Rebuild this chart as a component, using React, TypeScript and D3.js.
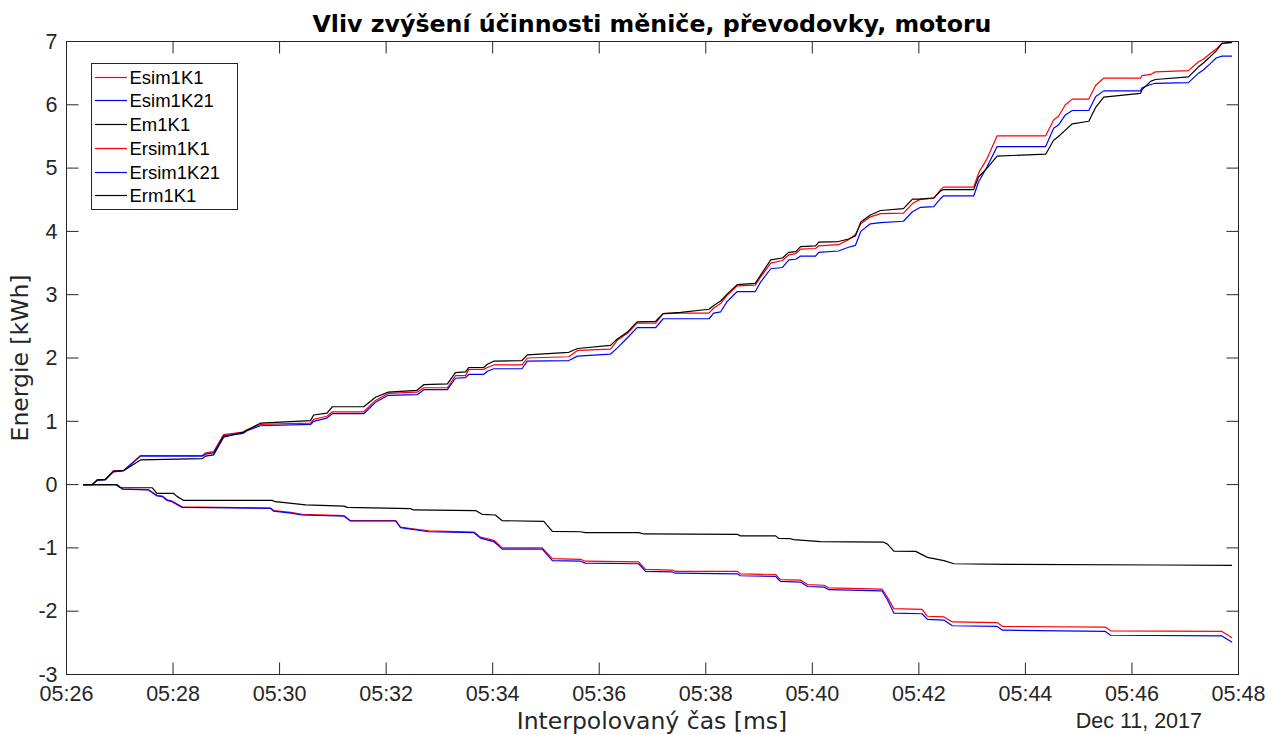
import React, { useEffect } from "react";
import * as d3 from "d3";

// ---- data (minutes after 05:26 on Dec 11, 2017, energy in kWh) ----
const posTimes = [
  0.31, 0.48, 0.58, 0.73, 0.88, 1.07, 1.39, 2.55, 2.61, 2.76,
  2.95, 3.32, 3.39, 3.64, 4.58, 4.64, 4.89, 4.99, 5.58, 5.80,
  6.04, 6.58, 6.71, 7.15, 7.30, 7.49, 7.55, 7.83, 7.90, 8.02,
  8.55, 8.65, 9.43, 9.59, 10.21, 10.34, 10.53, 10.71, 11.06, 11.20,
  11.53, 12.06, 12.15, 12.28, 12.40, 12.59, 12.93, 13.03, 13.22, 13.44,
  13.56, 13.69, 13.78, 14.06, 14.12, 14.49, 14.68, 14.81, 14.91, 15.09,
  15.28, 15.71, 15.88, 16.03, 16.28, 16.41, 16.46, 17.03, 17.12, 17.28,
  17.47, 18.38, 18.53, 18.62, 18.75, 18.88, 19.19, 19.32, 19.47, 20.16,
  20.19, 20.35, 20.44, 21.06, 21.25, 21.34, 21.47, 21.58, 21.69, 21.88,
];
const esim1K1 = [
  0, 0, 0.08, 0.08, 0.22, 0.22, 0.46, 0.46, 0.50, 0.52,
  0.79, 0.83, 0.87, 0.95, 0.97, 1.03, 1.08, 1.15, 1.15, 1.33,
  1.44, 1.46, 1.53, 1.53, 1.72, 1.72, 1.82, 1.82, 1.85, 1.89,
  1.89, 2.00, 2.02, 2.12, 2.14, 2.28, 2.39, 2.55, 2.55, 2.70,
  2.71, 2.71, 2.79, 2.86, 2.99, 3.14, 3.15, 3.28, 3.50, 3.54,
  3.63, 3.65, 3.72, 3.73, 3.77, 3.79, 3.87, 3.95, 4.12, 4.23,
  4.28, 4.29, 4.44, 4.51, 4.52, 4.66, 4.70, 4.70, 4.92, 5.15,
  5.51, 5.51, 5.76, 5.82, 6.00, 6.09, 6.09, 6.31, 6.42, 6.42,
  6.46, 6.48, 6.52, 6.54, 6.68, 6.72, 6.81, 6.88, 6.97, 6.98,
];
const esim1K21 = [
  0, 0, 0.07, 0.08, 0.21, 0.22, 0.45, 0.45, 0.48, 0.50,
  0.77, 0.81, 0.85, 0.93, 0.95, 1.00, 1.05, 1.12, 1.12, 1.30,
  1.41, 1.42, 1.50, 1.50, 1.68, 1.69, 1.74, 1.74, 1.79, 1.83,
  1.83, 1.95, 1.96, 2.03, 2.06, 2.16, 2.32, 2.48, 2.48, 2.62,
  2.62, 2.62, 2.71, 2.73, 2.89, 3.05, 3.05, 3.20, 3.41, 3.43,
  3.55, 3.56, 3.61, 3.61, 3.67, 3.69, 3.75, 3.78, 4.00, 4.12,
  4.14, 4.16, 4.31, 4.38, 4.39, 4.52, 4.56, 4.56, 4.78, 5.02,
  5.34, 5.34, 5.63, 5.68, 5.84, 5.91, 5.91, 6.13, 6.22, 6.22,
  6.27, 6.32, 6.34, 6.35, 6.50, 6.55, 6.65, 6.74, 6.77, 6.77,
];
const em1K1 = [
  0, 0, 0.07, 0.08, 0.20, 0.22, 0.39, 0.41, 0.45, 0.47,
  0.75, 0.83, 0.86, 0.97, 1.01, 1.10, 1.13, 1.23, 1.23, 1.38,
  1.46, 1.49, 1.58, 1.59, 1.77, 1.78, 1.85, 1.85, 1.90, 1.95,
  1.96, 2.05, 2.09, 2.15, 2.20, 2.30, 2.41, 2.57, 2.58, 2.70,
  2.72, 2.77, 2.83, 2.90, 3.01, 3.16, 3.18, 3.31, 3.55, 3.58,
  3.67, 3.68, 3.76, 3.77, 3.83, 3.84, 3.88, 3.93, 4.15, 4.26,
  4.33, 4.36, 4.51, 4.51, 4.53, 4.64, 4.66, 4.66, 4.86, 5.00,
  5.19, 5.22, 5.44, 5.50, 5.60, 5.70, 5.74, 5.96, 6.12, 6.18,
  6.24, 6.37, 6.40, 6.44, 6.60, 6.66, 6.76, 6.85, 6.97, 6.99,
];

const regSimTimes = [
  0.31, 0.95, 1.05, 1.54, 1.70, 1.80, 1.89, 1.98, 2.17, 3.83,
  3.89, 4.21, 4.42, 5.21, 5.33, 6.18, 6.27, 6.43, 6.80, 7.65,
  7.77, 8.02, 8.18, 8.93, 9.12, 9.65, 9.74, 10.74, 10.87, 11.37,
  11.43, 12.59, 12.65, 13.31, 13.40, 13.78, 13.91, 14.22, 14.31, 15.31,
  15.41, 15.53, 16.06, 16.16, 16.47, 16.63, 17.47, 17.57, 19.50, 19.60,
  21.69, 21.88,
];
const ersim1K1 = [
  0, 0, -0.07, -0.08, -0.17, -0.18, -0.24, -0.26, -0.35, -0.37,
  -0.41, -0.44, -0.47, -0.49, -0.57, -0.57, -0.67, -0.69, -0.73, -0.75,
  -0.83, -0.88, -1.00, -1.00, -1.17, -1.18, -1.21, -1.22, -1.34, -1.35,
  -1.37, -1.37, -1.41, -1.42, -1.50, -1.51, -1.58, -1.59, -1.63, -1.65,
  -1.78, -1.96, -1.97, -2.08, -2.09, -2.17, -2.18, -2.24, -2.25, -2.31,
  -2.32, -2.42,
];
const ersim1K21 = [
  0, 0, -0.07, -0.085, -0.18, -0.19, -0.25, -0.27, -0.36, -0.375,
  -0.42, -0.45, -0.48, -0.50, -0.575, -0.575, -0.68, -0.70, -0.745, -0.76,
  -0.845, -0.90, -1.02, -1.02, -1.20, -1.21, -1.24, -1.25, -1.37, -1.38,
  -1.40, -1.41, -1.44, -1.45, -1.53, -1.54, -1.61, -1.62, -1.66, -1.68,
  -1.82, -2.03, -2.04, -2.13, -2.14, -2.23, -2.24, -2.30, -2.32, -2.38,
  -2.39, -2.49,
];
const regMTimes = [
  0.31, 0.92, 1.01, 1.61, 1.70, 2.01, 2.08, 2.20, 3.86, 3.92,
  4.27, 4.49, 5.21, 5.27, 6.46, 6.51, 7.68, 7.80, 8.05, 8.18,
  8.96, 9.12, 9.65, 9.74, 10.74, 10.84, 12.59, 12.65, 13.31, 13.37,
  13.59, 13.65, 14.15, 15.34, 15.41, 15.53, 15.94, 16.16, 16.47, 16.66,
  17.66, 20.54, 21.88,
];
const erm1K1 = [
  0, 0, -0.05, -0.05, -0.14, -0.14, -0.19, -0.25, -0.25, -0.27,
  -0.30, -0.32, -0.34, -0.36, -0.38, -0.40, -0.41, -0.47, -0.48, -0.57,
  -0.58, -0.74, -0.745, -0.76, -0.76, -0.78, -0.785, -0.81, -0.81, -0.85,
  -0.855, -0.87, -0.90, -0.91, -0.94, -1.05, -1.055, -1.15, -1.20, -1.25,
  -1.26, -1.27, -1.275,
];

const seriesNames = ["Esim1K1", "Esim1K21", "Em1K1", "Ersim1K1", "Ersim1K21", "Erm1K1"];
const seriesColors = ["#ff0000", "#0000ff", "#000000", "#ff0000", "#0000ff", "#000000"];
const yTickValues = [-3, -2, -1, 0, 1, 2, 3, 4, 5, 6, 7];
const xTickMinutes = [0, 2, 4, 6, 8, 10, 12, 14, 16, 18, 20, 22];
const titleText = "Vliv zvýšení účinnosti měniče, převodovky, motoru";
const xLabelText = "Interpolovaný čas [ms]";
const yLabelText = "Energie [kWh]";
const dateLabelText = "Dec 11, 2017";

const T0 = new Date(2017, 11, 11, 5, 26, 0).getTime();
const toDate = (m: number) => new Date(T0 + m * 60000);

export default function App() {
  useEffect(() => {
    document.body.style.margin = "0";
  }, []);

  const W = 1272, H = 735;
  const left = 66.5, right = 1238.5, top = 41.5, bottom = 674.5;

  const x = d3.scaleTime().domain([toDate(0), toDate(22)]).range([left, right]);
  const y = d3.scaleLinear().domain([-3, 7]).range([bottom, top]);
  const fmt = d3.timeFormat("%H:%M");

  const mk = (ts: number[], vs: number[]) => ts.map((t, i) => [t, vs[i]] as [number, number]);
  const series = [
    mk(posTimes, esim1K1),
    mk(posTimes, esim1K21),
    mk(posTimes, em1K1),
    mk(regSimTimes, ersim1K1),
    mk(regSimTimes, ersim1K21),
    mk(regMTimes, erm1K1),
  ];
  const line = d3
    .line<[number, number]>()
    .x((d) => x(toDate(d[0])))
    .y((d) => y(d[1]));

  const axisColor = "#262626";
  const tickLen = 12;
  const tickFont = "'Liberation Sans', Arial, sans-serif";
  const labelFont = "'DejaVu Sans', sans-serif";
  const tickSize = 21.5;

  const legX = 91.5, legY = 63.5, legW = 146, legH = 146;
  const rowH = 23.7;

  return (
    <svg width={W} height={H} style={{ position: "absolute", left: 0, top: 0, background: "#fff" }}>
      <rect x={0} y={0} width={W} height={H} fill="#fff" />
      <defs>
        <clipPath id="clip">
          <rect x={left} y={top - 2} width={right - left} height={bottom - top + 4} />
        </clipPath>
      </defs>

      {/* data lines */}
      <g clipPath="url(#clip)">
        {series.map((s, i) => (
          <path key={i} d={line(s) || ""} fill="none" stroke={seriesColors[i]} strokeWidth={1.2} strokeLinejoin="round" />
        ))}
      </g>

      {/* axes box */}
      <rect x={left} y={top} width={right - left} height={bottom - top} fill="none" stroke={axisColor} strokeWidth={1} />

      {/* x ticks */}
      {xTickMinutes.map((m) => {
        const px = x(toDate(m));
        return (
          <g key={"xt" + m}>
            <line x1={px} x2={px} y1={bottom} y2={bottom - tickLen} stroke={axisColor} />
            <line x1={px} x2={px} y1={top} y2={top + tickLen} stroke={axisColor} />
            <text x={px} y={701} textAnchor="middle" fontFamily={tickFont} fontSize={tickSize} fill={axisColor}>
              {fmt(toDate(m))}
            </text>
          </g>
        );
      })}

      {/* y ticks */}
      {yTickValues.map((v) => {
        const py = y(v);
        return (
          <g key={"yt" + v}>
            <line x1={left} x2={left + tickLen} y1={py} y2={py} stroke={axisColor} />
            <line x1={right} x2={right - tickLen} y1={py} y2={py} stroke={axisColor} />
            <text x={57.5} y={py + 7.2} textAnchor="end" fontFamily={tickFont} fontSize={tickSize} fill={axisColor}>
              {String(v)}
            </text>
          </g>
        );
      })}

      {/* labels */}
      <text x={652} y={32} textAnchor="middle" fontFamily={labelFont} fontWeight="bold" fontSize={23.7} fill="#000">
        {titleText}
      </text>
      <text x={652} y={729} textAnchor="middle" fontFamily={labelFont} fontSize={23.5} fill={axisColor}>
        {xLabelText}
      </text>
      <text
        transform={`translate(28, ${(top + bottom) / 2}) rotate(-90)`}
        textAnchor="middle"
        fontFamily={labelFont}
        fontSize={23.5}
        fill={axisColor}
      >
        {yLabelText}
      </text>
      <text x={1202} y={728} textAnchor="end" fontFamily={tickFont} fontSize={tickSize} fill={axisColor}>
        {dateLabelText}
      </text>

      {/* legend */}
      <rect x={legX} y={legY} width={legW} height={legH} fill="#fff" stroke={axisColor} strokeWidth={1} />
      {seriesNames.map((n, i) => {
        const cy = Math.round(legY + 13.2 + i * rowH) + 0.5;
        return (
          <g key={n}>
            <line x1={95} x2={127} y1={cy} y2={cy} stroke={seriesColors[i]} strokeWidth={1.2} />
            <text x={129.5} y={cy + 6.6} fontFamily={tickFont} fontSize={18.5} fill="#000">
              {n}
            </text>
          </g>
        );
      })}
    </svg>
  );
}
